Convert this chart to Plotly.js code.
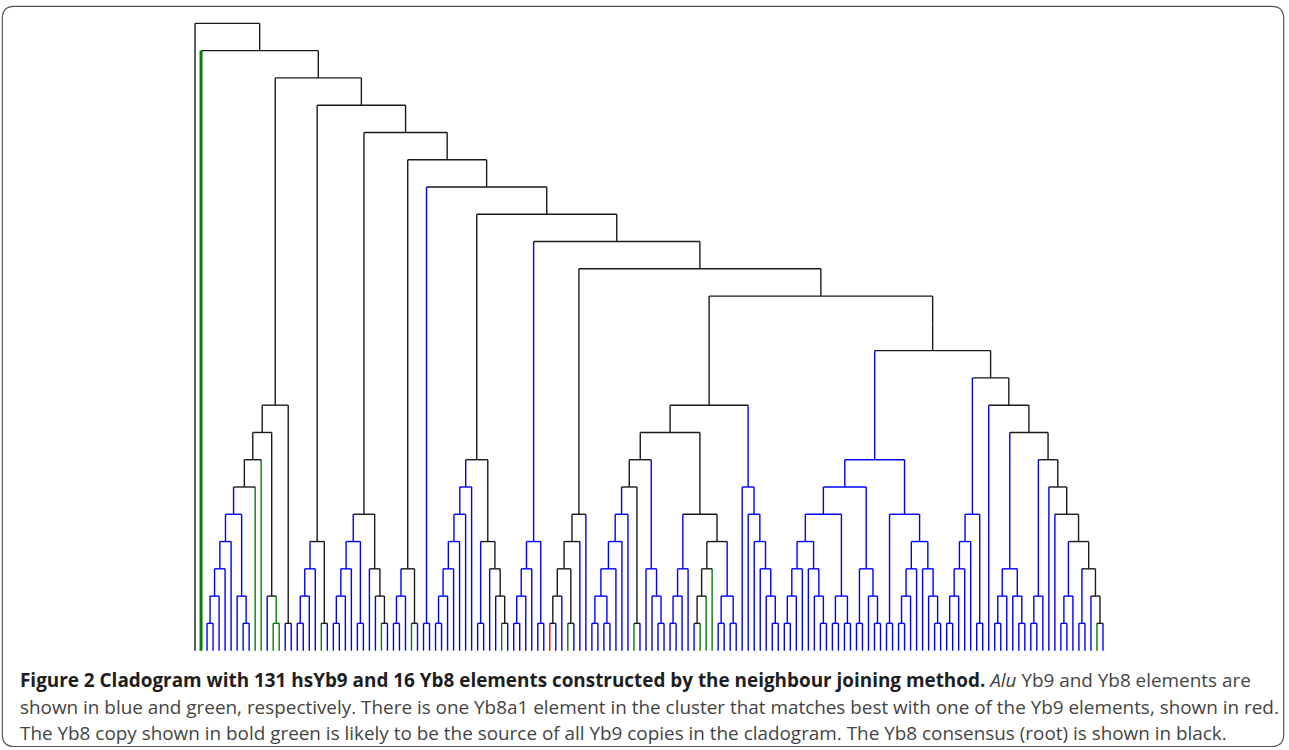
<!DOCTYPE html>
<html>
<head>
<meta charset="utf-8">
<script src="https://cdn.plot.ly/plotly-3.0.1.min.js"></script>
<style>
  html, body { margin: 0; padding: 0; background: #ffffff; }
  #chart { width: 1289px; height: 750px; }
</style>
</head>
<body>
<div id="chart"></div>
<script>
// ---------------- DATA ----------------
// Leaf codes: k = Yb8 consensus (root), G = Yb8 source copy (bold green),
// b = Yb9 element, g = Yb8 element, r = Yb8a1 element.
// A trailing "k" after ")" marks an internal branch drawn in black.
const cladeA = "(((((((((b,b),b),b),b),(b,(b,b))),g),g),(b,(g,g))),(b,b)k)";
const cladeB = "((((b,b),b),b),(g,b))";
const cladeC = "(((((b,b),b),b),(b,b)),(b,(b,(g,b))))";
const cladeD = "(((b,b),b),(g,b))";
const cladeE = "(b,b)";
const cladeF = "(((((((b,b),b),b),b),b),b),((b,b),(b,(b,(g,b)))))";
const cladeH = "((((b,b),b),b),(b,b))";
const cladeI = "(((((r,b),b),(g,b)),b),b)";
const cladeJ7 = "(((((((b,b),(b,b)),b),b),b),(g,b)),(b,(b,(b,b))))";
const cladeJ5 = "((((b,b),b),b),((((b,g),g),g),((b,b),(b,b))))";
const cladeJ6 = "(b,(b,(b,(b,(b,(b,b))))))";
const cladeK6 = "(((((((b,b),b),b),(b,(b,(b,b)))),((b,b),(b,b))),((b,b),(b,(b,b))))";
const cladeK5 = "((b,b),((((b,b),b),b),(b,(b,(b,b)))))";
const cladeM = "(((((b,b),b),b),b),(b,b))";
const cladeN3 = "(((b,b),b),(b,(b,b)))";
const cladeN4 = "(((b,b),b),((b,b),(b,(g,b))))";
const rootLeaf = "k";
const sourceLeaf = "G";

const leafColors = { k: "#1a1a1a", g: "#008000", b: "#0000ff", r: "#ff0000" };

const captionLine1 = "<b>Figure 2 Cladogram with 131 hsYb9 and 16 Yb8 elements constructed by the neighbour joining method.</b> <i>Alu</i> Yb9 and Yb8 elements are";
const captionLine2 = "shown in blue and green, respectively. There is one Yb8a1 element in the cluster that matches best with one of the Yb9 elements, shown in red.";
const captionLine3 = "The Yb8 copy shown in bold green is likely to be the source of all Yb9 copies in the cladogram. The Yb8 consensus (root) is shown in black.";

// ---------------- TREE ----------------
const cladeJ = "((" + cladeJ7 + "," + cladeJ5 + ")," + cladeJ6 + ")";
const cladeK = "(" + cladeK6 + "," + cladeK5 + ")";
const cladeN = "(b,(" + cladeN3 + ",(((b,b),b),(b,(b," + cladeN4 + ")))))";
const innerClades = [cladeA, cladeB, cladeC, cladeD, cladeE, cladeF, cladeH, cladeI, cladeJ, cladeK];
let tail = "(" + cladeM + "," + cladeN + ")";
for (let i = innerClades.length - 1; i >= 0; i--) tail = "(" + innerClades[i] + "," + tail + ")";
const newick = "(" + rootLeaf + ",(" + sourceLeaf + "," + tail + "))";

function parse(s) {
  let i = 0;
  function node() {
    if (s[i] === "(") {
      i++;
      const ch = [node()];
      while (s[i] === ",") { i++; ch.push(node()); }
      i++; // ')'
      let forced = false;
      if (s[i] === "k") { forced = true; i++; }
      return { ch, forced };
    }
    const c = s[i]; i++;
    return { leaf: c };
  }
  return node();
}
const root = parse(newick);

let leafCount = 0;
function layout(n) {
  if (n.leaf) { n.x = leafCount++; n.h = 0; n.cls = n.leaf === "G" ? "g" : n.leaf; return; }
  n.ch.forEach(layout);
  n.h = 1 + Math.max(...n.ch.map(c => c.h));
  n.x = (n.ch[0].x + n.ch[n.ch.length - 1].x) / 2;
  const cl = n.ch.map(c => c.cls);
  n.cls = (!n.forced && cl.every(c => c === cl[0])) ? cl[0] : "k";
}
layout(root);
const N = leafCount, maxH = root.h;

// segments grouped by style
const groups = {};
function seg(key, x0, y0, x1, y1) {
  if (!groups[key]) groups[key] = { x: [], y: [] };
  groups[key].x.push(x0, x1, null);
  groups[key].y.push(y0, y1, null);
}
function walk(n, parentH) {
  const key = (n.leaf === "G") ? "bold" : n.cls;
  if (parentH !== null) seg(key, n.x, n.h, n.x, parentH);
  if (!n.leaf) {
    seg(n.cls, n.ch[0].x, n.h, n.ch[n.ch.length - 1].x, n.h);
    n.ch.forEach(c => walk(c, n.h));
  }
}
walk(root, null);

const styleOf = {
  k: { color: leafColors.k, width: 1.4 },
  b: { color: leafColors.b, width: 1.4 },
  g: { color: leafColors.g, width: 1.4 },
  r: { color: leafColors.r, width: 1.4 },
  bold: { color: leafColors.g, width: 3 }
};
const traces = ["b", "g", "r", "k", "bold"].filter(k => groups[k]).map(k => ({
  type: "scatter", mode: "lines", x: groups[k].x, y: groups[k].y,
  line: { color: styleOf[k].color, width: styleOf[k].width },
  hoverinfo: "skip", showlegend: false, connectgaps: false
}));

// ---------------- GEOMETRY ----------------
const W = 1289, H = 750;
const x0px = 195.5, x1px = 1102.5, y0px = 651, ytopPx = 23;
const pxLeaf = (x1px - x0px) / (N - 1);
const pxLevel = (y0px - ytopPx) / maxH;
const l = x0px - 2 * pxLeaf;
const plotW = (N + 3) * pxLeaf;
const r = W - l - plotW;
const t = ytopPx - 0.6 * pxLevel;
const b = H - (y0px + 0.6 * pxLevel);
const plotH = H - t - b;
const px2paperX = px => (px - l) / plotW;
const px2paperY = py => (H - b - py) / plotH;

// rounded border
const bx0 = 3, bx1 = 1283, by0 = 6, by1 = 747, rad = 12;
function P(x, y) { return px2paperX(x).toFixed(5) + "," + px2paperY(y).toFixed(5); }
const borderPath = "M " + P(bx0 + rad, by0) + " L " + P(bx1 - rad, by0) +
  " Q " + P(bx1, by0) + " " + P(bx1, by0 + rad) + " L " + P(bx1, by1 - rad) +
  " Q " + P(bx1, by1) + " " + P(bx1 - rad, by1) + " L " + P(bx0 + rad, by1) +
  " Q " + P(bx0, by1) + " " + P(bx0, by1 - rad) + " L " + P(bx0, by0 + rad) +
  " Q " + P(bx0, by0) + " " + P(bx0 + rad, by0) + " Z";

const capFont = { family: "Open Sans, sans-serif", size: 18.9, color: "#444444" };
function cap(text, yc) {
  return { xref: "paper", yref: "paper", x: px2paperX(19), y: px2paperY(yc),
    xanchor: "left", yanchor: "middle", text: text, showarrow: false, align: "left", font: capFont };
}

const layoutObj = {
  width: W, height: H, autosize: false,
  margin: { l: l, r: r, t: t, b: b, pad: 0 },
  paper_bgcolor: "#ffffff", plot_bgcolor: "#ffffff",
  xaxis: { range: [-2, N + 1], visible: false, fixedrange: true },
  yaxis: { range: [-0.6, maxH + 0.6], visible: false, fixedrange: true },
  showlegend: false,
  shapes: [{ type: "path", xref: "paper", yref: "paper", path: borderPath,
             line: { color: "#555555", width: 1.2 }, fillcolor: "rgba(0,0,0,0)", layer: "below" }],
  annotations: [
    cap(captionLine1.replace("<b>", "<b><span style='color:#1e1e1e'>").replace("</b>", "</span></b>"), 680),
    cap(captionLine2, 707),
    cap(captionLine3, 733)
  ]
};

Plotly.newPlot("chart", traces, layoutObj, { displayModeBar: false, staticPlot: true });
</script>
</body>
</html>
